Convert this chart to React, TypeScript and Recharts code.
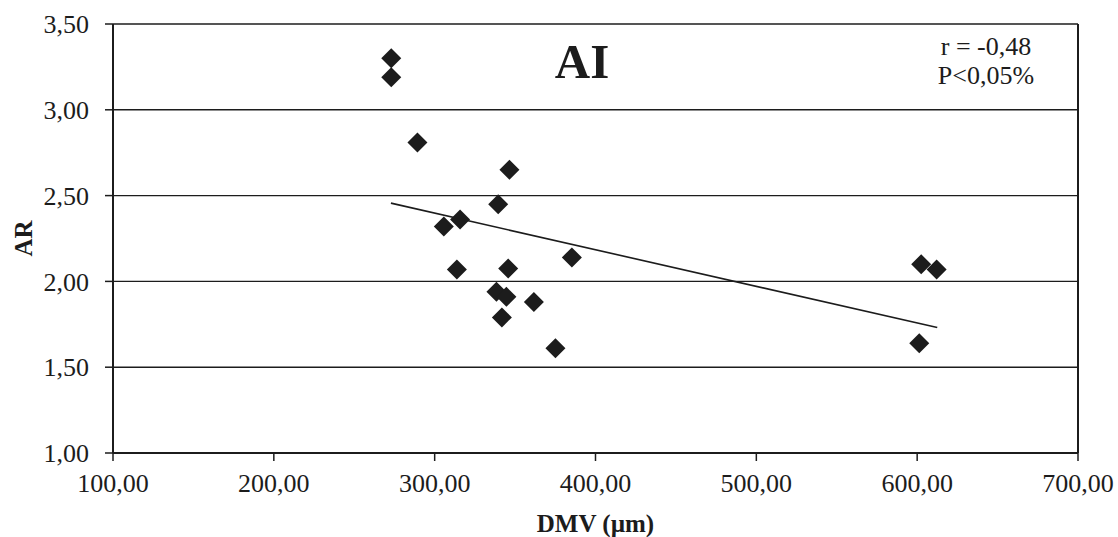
import {
  ScatterChart,
  Scatter,
  XAxis,
  YAxis,
  CartesianGrid,
  ReferenceLine,
  Label,
  Customized,
} from "recharts";

const dmv = [273, 273, 289.3, 346.5, 339.5, 315.8, 305.7, 385.3, 313.8, 345.7, 338.4, 344.6, 361.7, 341.8, 375.1, 602.5, 612.1, 601.3];
const ar = [3.3, 3.19, 2.81, 2.65, 2.45, 2.36, 2.32, 2.14, 2.07, 2.075, 1.94, 1.91, 1.88, 1.79, 1.61, 2.1, 2.07, 1.64];

const trendX = [272.8, 612.5];
const trendY = [2.456, 1.731];

const xTicks = [100, 200, 300, 400, 500, 600, 700];
const yTicks = [1, 1.5, 2, 2.5, 3, 3.5];

const points = dmv.map((x, i) => ({ x, y: ar[i] }));
const trend = trendX.map((x, i) => ({ x, y: trendY[i] }));

const FONT = '"Liberation Serif", "Times New Roman", serif';
const INK = "#1c1c1c";

const fmt = (v: number) => v.toFixed(2).replace(".", ",");

function Diamond({ cx, cy }: { cx?: number; cy?: number }) {
  if (cx == null || cy == null) return <g />;
  const r = 10;
  return <polygon points={`${cx},${cy - r} ${cx + r},${cy} ${cx},${cy + r} ${cx - r},${cy}`} fill={INK} />;
}

function Annotations() {
  return (
    <g fontFamily={FONT} fill={INK}>
      <text x={582} y={78} fontSize={49} fontWeight="bold" textAnchor="middle">
        AI
      </text>
      <text x={986} y={55} fontSize={26} textAnchor="middle">
        r = -0,48
      </text>
      <text x={986} y={84} fontSize={26} textAnchor="middle">
        P&lt;0,05%
      </text>
    </g>
  );
}

export default function App() {
  return (
    <div style={{ position: "absolute", left: 0, top: 0, background: "#fff" }}>
      <ScatterChart width={1118} height={537} margin={{ top: 24, right: 40, bottom: 24, left: 0 }}>
        <CartesianGrid horizontal vertical={false} stroke={INK} strokeWidth={1.4} strokeOpacity={1} />
        <XAxis
          type="number"
          dataKey="x"
          domain={[100, 700]}
          ticks={xTicks}
          tickFormatter={fmt}
          height={60}
          tickSize={8}
          tickMargin={13}
          axisLine={{ stroke: INK, strokeWidth: 2 }}
          tickLine={{ stroke: INK, strokeWidth: 1.5 }}
          tick={{ fontSize: 26, fill: INK, fontFamily: FONT }}
          interval={0}
          allowDataOverflow
        >
          <Label
            content={({ viewBox }: any) => (
              <text
                x={viewBox.x + viewBox.width / 2}
                y={viewBox.y + 79}
                textAnchor="middle"
                fontFamily={FONT}
                fontSize={25}
                fontWeight="bold"
                fill={INK}
              >
                DMV (µm)
              </text>
            )}
          />
        </XAxis>
        <YAxis
          type="number"
          dataKey="y"
          domain={[1, 3.5]}
          ticks={yTicks}
          tickFormatter={fmt}
          width={113}
          tickSize={8}
          tickMargin={16}
          axisLine={{ stroke: INK, strokeWidth: 2 }}
          tickLine={{ stroke: INK, strokeWidth: 1.5 }}
          tick={{ fontSize: 26, fill: INK, fontFamily: FONT }}
          interval={0}
          allowDataOverflow
        >
          <Label
            content={({ viewBox }: any) => {
              const cx = viewBox.x + 23;
              const cy = viewBox.y + viewBox.height / 2;
              return (
                <text
                  x={cx}
                  y={cy}
                  transform={`rotate(-90 ${cx} ${cy})`}
                  textAnchor="middle"
                  dominantBaseline="central"
                  fontFamily={FONT}
                  fontSize={25}
                  fontWeight="bold"
                  fill={INK}
                >
                  AR
                </text>
              );
            }}
          />
        </YAxis>
        <ReferenceLine x={700} stroke={INK} strokeWidth={2} />
        <ReferenceLine
          segment={[trend[0], trend[1]]}
          stroke={INK}
          strokeWidth={1.6}
        />
        <Scatter data={points} shape={<Diamond />} isAnimationActive={false} />
        <Customized component={<Annotations />} />
      </ScatterChart>
    </div>
  );
}
